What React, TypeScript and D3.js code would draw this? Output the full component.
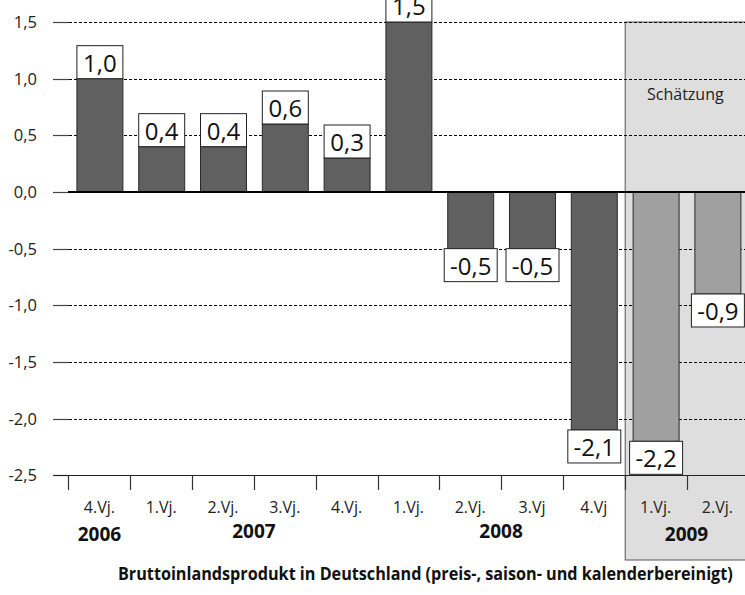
import React, { useEffect, useRef } from "react";
import { select, scaleBand, scaleLinear } from "d3";

const quarters = ["4.Vj.", "1.Vj.", "2.Vj.", "3.Vj.", "4.Vj.", "1.Vj.", "2.Vj.", "3.Vj", "4.Vj", "1.Vj.", "2.Vj."];
const values = [1.0, 0.4, 0.4, 0.6, 0.3, 1.5, -0.5, -0.5, -2.1, -2.2, -0.9];
const estimated = [false, false, false, false, false, false, false, false, false, true, true];
const yearLabels = ["2006", "2007", "2008", "2009"];
const yearFirst = [0, 1, 5, 9];
const yearLast = [0, 4, 8, 10];
const yTicks = [1.5, 1.0, 0.5, 0.0, -0.5, -1.0, -1.5, -2.0, -2.5];
const title = "Bruttoinlandsprodukt in Deutschland (preis-, saison- und kalenderbereinigt)";

const W = 745;
const H = 595;
const font = "'Open Sans', 'DejaVu Sans', sans-serif";

const fmt = (v: number) => v.toFixed(1).replace(".", ",");

function App() {
  const svgRef = useRef<SVGSVGElement>(null);

  useEffect(() => {
    const svg = select(svgRef.current);
    svg.selectAll("*").remove();

    const idx = quarters.map((_, i) => i);
    const x = scaleBand<number>()
      .domain(idx)
      .range([68.5, 748.3])
      .paddingInner(0.256)
      .paddingOuter(0.128);
    const y = scaleLinear().domain([-2.5, 1.5]).range([475.3, 22]);
    const step = x.step();
    const edge = (i: number) => x(i)! - x.paddingOuter() * step;
    const bw = x.bandwidth();

    // Schätzung area (2009)
    const shadeX = edge(9);
    svg
      .append("rect")
      .attr("x", shadeX + 0.5)
      .attr("y", y(1.5))
      .attr("width", W - shadeX + 10)
      .attr("height", 560 - y(1.5))
      .attr("fill", "#dedede")
      .attr("stroke", "#555")
      .attr("stroke-width", 1);

    svg
      .append("text")
      .attr("x", shadeX + (W - shadeX) / 2 + 0.5)
      .attr("y", 100)
      .attr("text-anchor", "middle")
      .attr("font-family", font)
      .attr("font-size", 16)
      .attr("fill", "#222")
      .text("Schätzung");

    // grid + y ticks
    svg
      .selectAll(".grid")
      .data(yTicks.filter((t) => t !== 0 && t !== -2.5))
      .join("line")
      .attr("class", "grid")
      .attr("x1", 69)
      .attr("x2", W)
      .attr("y1", (d) => Math.round(y(d)) + 0.5)
      .attr("y2", (d) => Math.round(y(d)) + 0.5)
      .attr("stroke", "#000")
      .attr("stroke-width", 1)
      .attr("stroke-dasharray", "3,2");

    svg
      .selectAll(".ytick")
      .data(yTicks)
      .join("line")
      .attr("class", "ytick")
      .attr("x1", 53)
      .attr("x2", 69)
      .attr("y1", (d) => Math.round(y(d)) + 0.5)
      .attr("y2", (d) => Math.round(y(d)) + 0.5)
      .attr("stroke", "#444")
      .attr("stroke-width", 1.2);

    svg
      .selectAll(".ylab")
      .data(yTicks)
      .join("text")
      .attr("class", "ylab")
      .attr("x", 37)
      .attr("y", (d) => y(d) + 6)
      .attr("text-anchor", "end")
      .attr("font-family", font)
      .attr("font-size", 16.5)
      .attr("fill", "#222")
      .text(fmt);

    // bottom axis
    svg
      .append("line")
      .attr("x1", 53)
      .attr("x2", W)
      .attr("y1", Math.round(y(-2.5)) + 0.5)
      .attr("y2", Math.round(y(-2.5)) + 0.5)
      .attr("stroke", "#222")
      .attr("stroke-width", 1);

    svg
      .selectAll(".xtick")
      .data(idx)
      .join("line")
      .attr("class", "xtick")
      .attr("x1", (i) => Math.round(edge(i)) + 0.5)
      .attr("x2", (i) => Math.round(edge(i)) + 0.5)
      .attr("y1", y(-2.5))
      .attr("y2", 490)
      .attr("stroke", "#333")
      .attr("stroke-width", 1.2);

    // bars
    svg
      .selectAll(".bar")
      .data(idx)
      .join("rect")
      .attr("class", "bar")
      .attr("x", (i) => x(i)! + 0.5)
      .attr("y", (i) => Math.min(y(values[i]), y(0)))
      .attr("width", bw)
      .attr("height", (i) => Math.abs(y(values[i]) - y(0)))
      .attr("fill", (i) => (estimated[i] ? "#a0a0a0" : "#606060"))
      .attr("stroke", "#2a2a2a")
      .attr("stroke-width", 1);

    // zero line
    svg
      .append("line")
      .attr("x1", 68)
      .attr("x2", W)
      .attr("y1", y(0))
      .attr("y2", y(0))
      .attr("stroke", "#000")
      .attr("stroke-width", 2.2);

    // value labels in boxes
    const boxH = 33;
    const labels = svg
      .selectAll(".vlab")
      .data(idx)
      .join("g")
      .attr("class", "vlab")
      .attr("transform", (i) => {
        const w = values[i] < 0 ? bw + 7 : bw;
        const cx = x(i)! + bw / 2 + 0.5;
        const top = values[i] < 0 ? y(values[i]) : y(values[i]) - boxH;
        return `translate(${cx - w / 2},${top})`;
      });

    labels
      .append("rect")
      .attr("width", (i) => (values[i] < 0 ? bw + 7 : bw))
      .attr("height", boxH)
      .attr("fill", "#fff")
      .attr("stroke", "#222")
      .attr("stroke-width", 1);

    labels
      .append("text")
      .attr("x", (i) => (values[i] < 0 ? bw + 7 : bw) / 2)
      .attr("y", 26)
      .attr("text-anchor", "middle")
      .attr("font-family", font)
      .attr("font-size", 24)
      .attr("fill", "#111")
      .text((i) => fmt(values[i]));

    // quarter labels
    svg
      .selectAll(".qlab")
      .data(idx)
      .join("text")
      .attr("class", "qlab")
      .attr("x", (i) => x(i)! + bw / 2)
      .attr("y", 513)
      .attr("text-anchor", "middle")
      .attr("font-family", font)
      .attr("font-size", 16)
      .attr("fill", "#222")
      .text((i) => quarters[i]);

    // year labels
    svg
      .selectAll(".ylabel")
      .data(yearLabels)
      .join("text")
      .attr("class", "ylabel")
      .attr("x", (_, k) => (x(yearFirst[k])! + x(yearLast[k])! + bw) / 2)
      .attr("y", (_, k) => (k === 0 || k === 3 ? 541 : 538))
      .attr("text-anchor", "middle")
      .attr("font-family", font)
      .attr("font-weight", "bold")
      .attr("font-size", 19)
      .attr("fill", "#111")
      .text((d) => d);

    // title, squeezed horizontally to fit like the narrow original font
    const t = svg
      .append("text")
      .attr("font-family", font)
      .attr("font-weight", "bold")
      .attr("font-size", 18.5)
      .attr("fill", "#111")
      .text(title);
    const natural = (t.node() as SVGTextElement).getComputedTextLength() || 615;
    t.attr("transform", `translate(118,580) scale(${615 / natural},1)`);
  }, []);

  return (
    <div style={{ position: "absolute", left: 0, top: 0, background: "#fff" }}>
      <svg ref={svgRef} width={W} height={H} style={{ display: "block" }} />
    </div>
  );
}

export default App;
